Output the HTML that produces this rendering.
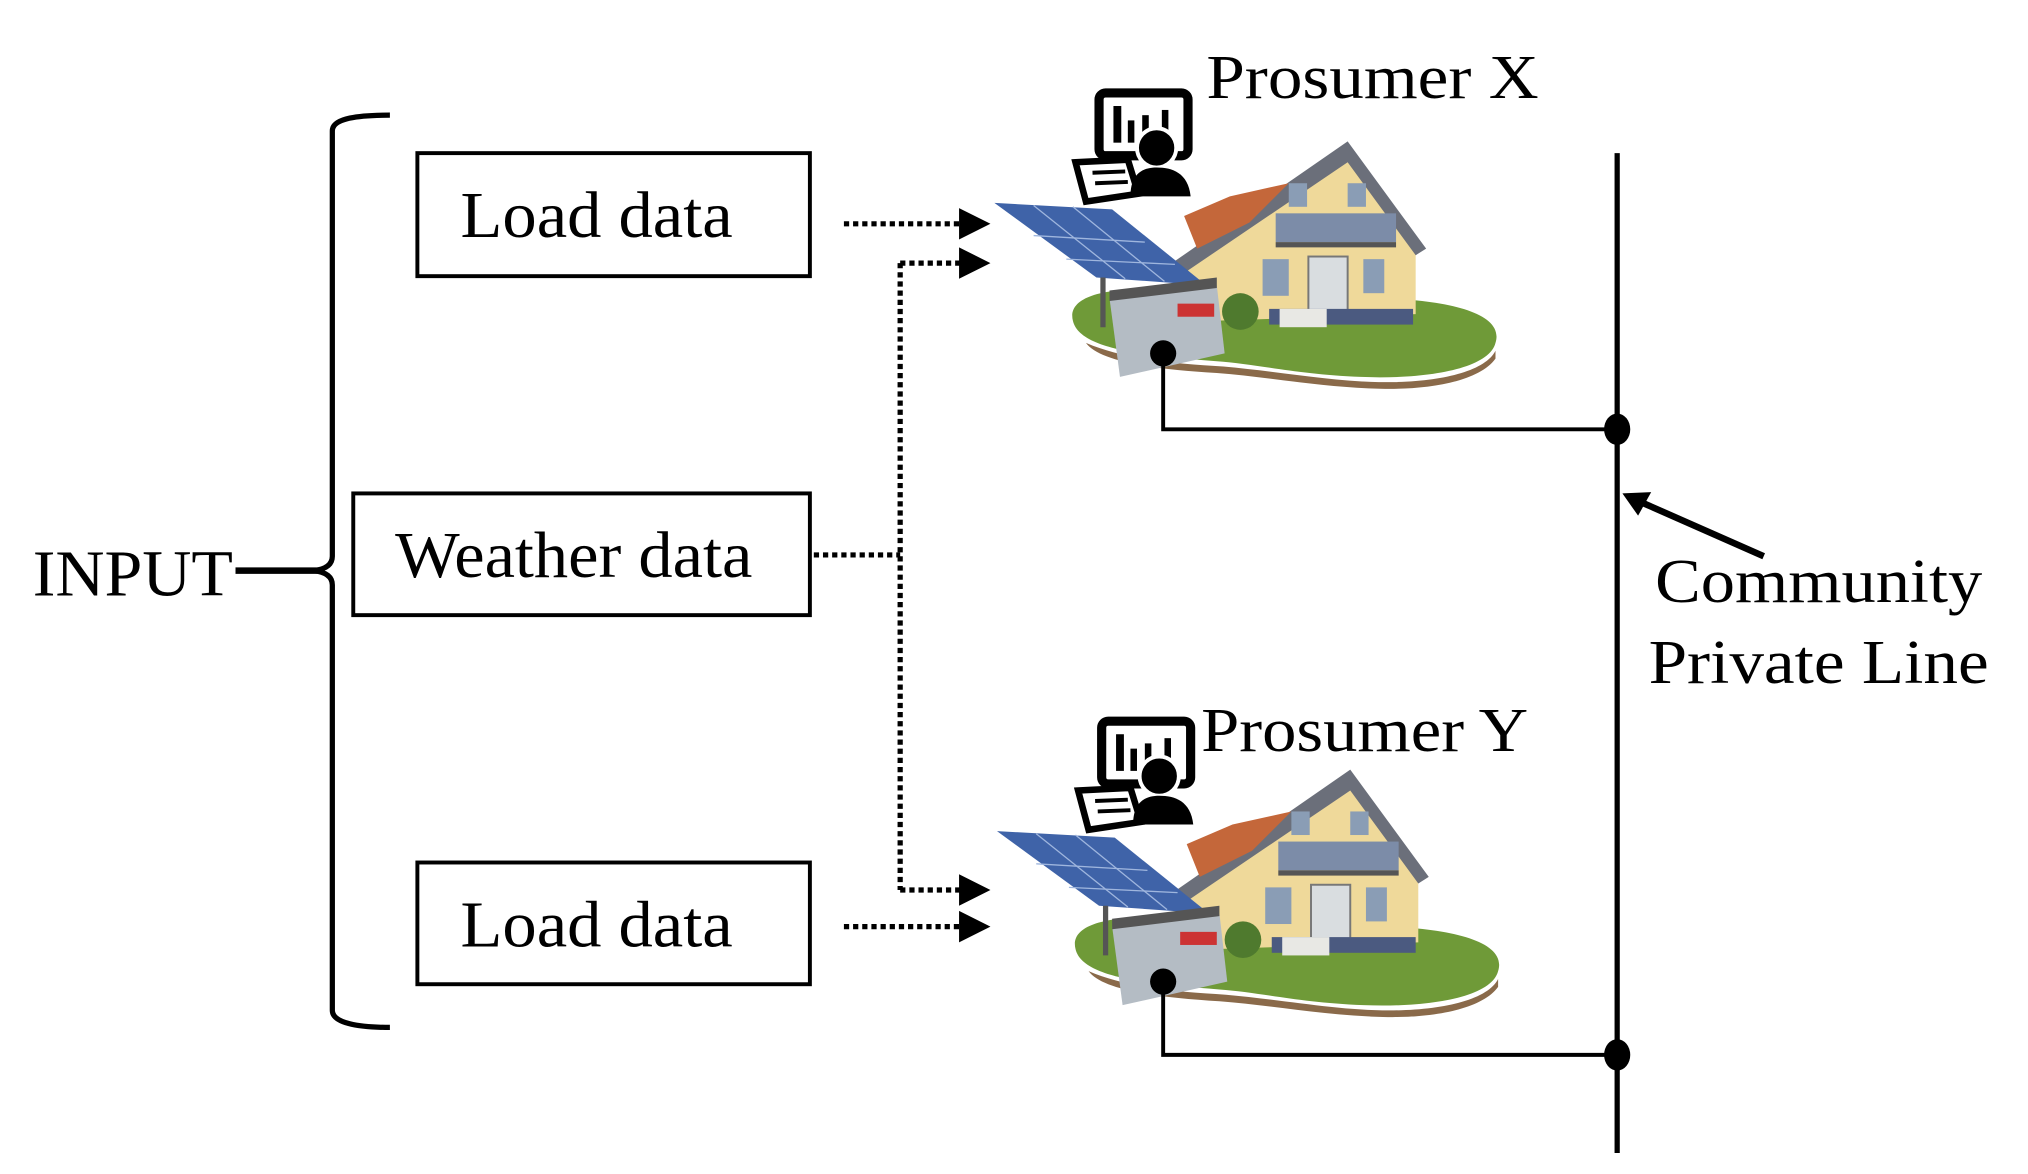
<!DOCTYPE html>
<html><head><meta charset="utf-8"><style>
html,body{margin:0;padding:0;background:#fff;}
svg{display:block;}
text{font-family:"Liberation Serif",serif;fill:#000;}
</style></head><body>
<svg width="2028" height="1174" viewBox="0 0 1550 897" preserveAspectRatio="none" xmlns="http://www.w3.org/2000/svg">
<defs>
<g id="house">
  <!-- ground -->
  <path d="M820,245 C815,225 850,218 900,222 L1060,228 C1110,230 1150,240 1143,262 C1138,282 1090,290 1040,288 C990,286 960,278 930,276 C880,272 825,268 820,245 Z" fill="#6f9a38"/>
  <path d="M830,262 C860,275 900,278 935,280 C980,284 1020,292 1060,292 C1100,292 1135,284 1143,268 L1143,274 C1130,292 1090,298 1055,297 C1010,296 970,288 930,285 C880,282 840,276 830,262 Z" fill="#8a6a4a"/>
  <!-- house walls -->
  <polygon points="900,200 1030,112 1082,182 1082,240 900,246" fill="#efd99a"/>
  <polygon points="890,205 1030,108 1090,190 1082,195 1030,124 900,212" fill="#6b6f7a"/>
  <polygon points="905,165 940,150 985,140 955,170 915,190" fill="#c4673a"/>
  <rect x="975" y="163" width="92" height="22" fill="#7c8ca8"/>
  <rect x="975" y="185" width="92" height="4" fill="#555"/>
  <rect x="1000" y="196" width="30" height="42" fill="#d9dde0" stroke="#777" stroke-width="1.5"/>
  <rect x="965" y="198" width="20" height="28" fill="#8a9db5"/>
  <rect x="1042" y="198" width="16" height="26" fill="#8a9db5"/>
  <rect x="985" y="140" width="14" height="18" fill="#8a9db5"/>
  <rect x="1030" y="140" width="14" height="18" fill="#8a9db5"/>
  <rect x="970" y="236" width="110" height="12" fill="#4b5a80"/>
  <circle cx="948" cy="238" r="14" fill="#4f7a2e"/>
  <rect x="978" y="236" width="36" height="14" fill="#e8e8e4"/>
  <!-- solar panel -->
  <polygon points="760,155 850,160 922,218 838,212" fill="#3f63a8"/>
  <g stroke="#9fb6de" stroke-width="1">
    <line x1="790" y1="180" x2="875" y2="185"/>
    <line x1="815" y1="198" x2="898" y2="202"/>
    <line x1="790" y1="157" x2="860" y2="213"/>
    <line x1="820" y1="158" x2="890" y2="215"/>
  </g>
  <line x1="843" y1="212" x2="843" y2="250" stroke="#555" stroke-width="4"/>
  <!-- battery -->
  <polygon points="848,228 930,218 936,270 856,288" fill="#b4bcc4"/>
  <polygon points="848,222 930,212 930,220 848,230" fill="#555"/>
  <rect x="900" y="232" width="28" height="10" fill="#c33"/>
  <!-- icon -->
  <rect x="840" y="71" width="68" height="48" rx="5" fill="none" stroke="#000" stroke-width="7"/>
  <rect x="851" y="81" width="6" height="28" fill="#000"/>
  <rect x="862" y="92" width="5" height="17" fill="#000"/>
  <rect x="873" y="88" width="5" height="14" fill="#000"/>
  <rect x="888" y="84" width="5" height="16" fill="#000"/>
  <circle cx="884" cy="113" r="15" fill="#000" stroke="#fff" stroke-width="3"/>
  <path d="M864,150 C864,132 874,128 884,128 C896,128 908,132 910,150 Z" fill="#000"/>
  <polygon points="822,124 862,122 870,148 830,154" fill="none" stroke="#000" stroke-width="5"/>
  <line x1="835" y1="132" x2="860" y2="131" stroke="#000" stroke-width="3"/>
  <line x1="837" y1="140" x2="862" y2="139" stroke="#000" stroke-width="3"/>
</g>
</defs>

<!-- brace -->
<path d="M298,88 C275,88 254,90 254,100 L254,425 C254,432 248,435 240,436 C248,437 254,440 254,447 L254,772 C254,782 275,785 298,785" fill="none" stroke="#000" stroke-width="4"/>
<line x1="180" y1="436" x2="245" y2="436" stroke="#000" stroke-width="5"/>
<text x="25" y="455" font-size="50" textLength="153" lengthAdjust="spacingAndGlyphs">INPUT</text>

<!-- boxes -->
<rect x="319" y="117" width="300" height="94" fill="none" stroke="#000" stroke-width="3"/>
<text x="352" y="181" font-size="50" textLength="208" lengthAdjust="spacingAndGlyphs">Load data</text>
<rect x="270" y="377" width="349" height="93" fill="none" stroke="#000" stroke-width="3"/>
<text x="302" y="441" font-size="50" textLength="273" lengthAdjust="spacingAndGlyphs">Weather data</text>
<rect x="319" y="659" width="300" height="93" fill="none" stroke="#000" stroke-width="3"/>
<text x="352" y="723" font-size="50" textLength="208" lengthAdjust="spacingAndGlyphs">Load data</text>

<!-- dotted connectors -->
<g stroke="#000" stroke-width="4" stroke-dasharray="4,3" fill="none">
  <line x1="645" y1="171" x2="735" y2="171"/>
  <line x1="688" y1="201" x2="735" y2="201"/>
  <line x1="688" y1="201" x2="688" y2="680"/>
  <line x1="622" y1="424" x2="688" y2="424"/>
  <line x1="688" y1="680" x2="735" y2="680"/>
  <line x1="645" y1="708" x2="735" y2="708"/>
</g>
<g fill="#000">
  <polygon points="733,159 757,171 733,183"/>
  <polygon points="733,189 757,201 733,213"/>
  <polygon points="733,668 757,680 733,692"/>
  <polygon points="733,696 757,708 733,720"/>
</g>

<!-- houses -->
<use href="#house"/>
<use href="#house" transform="translate(2,480)"/>

<text x="922" y="75" font-size="48" textLength="254" lengthAdjust="spacingAndGlyphs">Prosumer X</text>
<text x="918" y="574" font-size="48" textLength="250" lengthAdjust="spacingAndGlyphs">Prosumer Y</text>

<!-- power lines -->
<line x1="1236" y1="117" x2="1236" y2="881" stroke="#000" stroke-width="4"/>
<polyline points="889,272 889,328 1236,328" fill="none" stroke="#000" stroke-width="3"/>
<polyline points="889,752 889,806 1236,806" fill="none" stroke="#000" stroke-width="3"/>
<circle cx="889" cy="270" r="10" fill="#000"/>
<circle cx="889" cy="750" r="10" fill="#000"/>
<ellipse cx="1236" cy="328" rx="10" ry="12" fill="#000"/>
<ellipse cx="1236" cy="806" rx="10" ry="12" fill="#000"/>

<line x1="1348" y1="425" x2="1255" y2="384" stroke="#000" stroke-width="5"/>
<polygon points="1240,377 1262,376 1252,394" fill="#000"/>

<text x="1265" y="460" font-size="48" textLength="250" lengthAdjust="spacingAndGlyphs">Community</text>
<text x="1260" y="522" font-size="48" textLength="260" lengthAdjust="spacingAndGlyphs">Private Line</text>
</svg>
</body></html>
